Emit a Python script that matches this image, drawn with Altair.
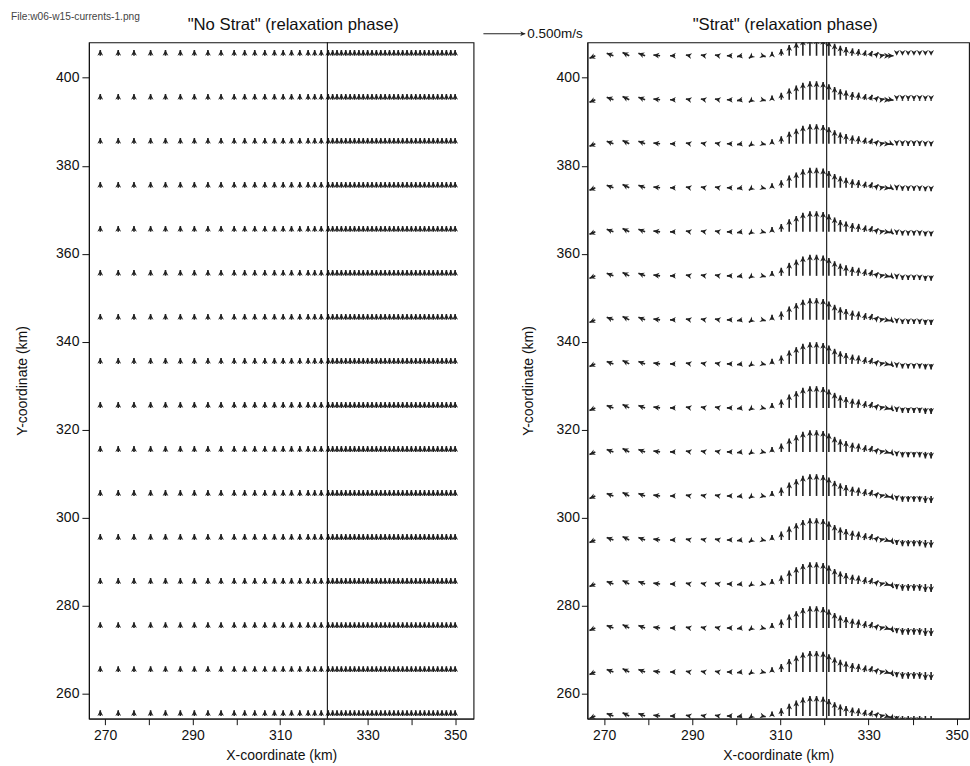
import math
import altair as alt
import pandas as pd

FONT = "Liberation Sans"
INK = "#222222"
LINE = "#111111"

# ---------------- data (km grid, velocities in m/s) ----------------
ROW_Y = [405, 395, 385, 375, 365, 355, 345, 335, 325, 315, 305, 295, 285, 275, 265, 255]

# "No Strat" panel: grid columns (km); velocities are practically zero (weak northward)
LEFT_X = [268.9, 273.0, 276.6, 280.4, 283.8, 287.2, 290.4, 293.5, 296.5, 299.5,
          301.9, 304.2, 306.5, 308.7, 310.7, 312.6, 314.5, 316.4, 317.9, 319.4,
          321.0, 322.0, 323.0, 324.0, 325.0, 326.0, 327.0, 328.0, 329.0, 330.0,
          331.0, 332.0, 333.0, 334.0, 335.0, 336.0, 337.0, 338.0, 339.0, 340.0,
          341.0, 342.0, 343.0, 344.0, 345.0, 346.0, 347.0, 348.0, 349.0, 350.0]
LEFT_U = 0.0
LEFT_V = 0.07

# "Strat" panel: grid columns (km) and the cross-shore profile of u, v (m/s)
R_X = [268.0, 272.1, 275.7, 279.3, 282.7, 286.1, 289.5, 292.9, 296.1, 299.0,
       301.3, 303.6, 305.9, 308.1, 310.2, 312.0, 313.6, 315.1, 316.7, 318.2,
       319.7, 321.0, 322.3, 323.6, 324.9, 326.2, 327.6, 329.0, 330.3, 331.5,
       332.7, 333.9, 335.1, 336.4, 337.7, 339.0, 340.3, 341.6, 342.9, 344.2]
R_U = [-0.07, -0.08, -0.08, -0.08, -0.08, -0.06, -0.05, -0.05, -0.05, -0.06,
       -0.06, -0.04, 0.04, 0.00, 0.00, 0.00, 0.00, 0.00, 0.00, 0.00,
       0.00, 0.00, 0.00, 0.00, 0.00, 0.01, 0.01, 0.02, 0.03, 0.04,
       0.05, 0.05, 0.03, 0.00, 0.00, 0.00, 0.00, 0.00, 0.00, 0.00]
R_V = [-0.03, 0.03, 0.04, 0.03, 0.01, 0.00, 0.01, 0.01, 0.01, 0.00,
       -0.01, -0.03, -0.01, 0.06, 0.10, 0.16, 0.20, 0.24, 0.26, 0.26,
       0.25, 0.22, 0.18, 0.15, 0.13, 0.11, 0.10, 0.08, 0.07, 0.04,
       0.01, -0.01, -0.03, -0.04, -0.05, -0.05, -0.05, -0.05, -0.06, -0.06]
# row-wise strength of the jet and of the offshore (tail) southward flow
ROW_PEAK = [0.80, 0.85, 0.90, 0.92, 0.95, 0.97, 1.0, 1.0, 1.0, 1.0, 1.0, 1.0, 1.0, 1.0, 0.97, 0.92]
ROW_TAIL = [0.0, 0.2, 0.5, 0.7, 0.9, 1.0, 1.0, 1.1, 1.2, 1.3, 1.4, 1.5, 1.6, 1.6, 1.6, 1.6]
TAIL_START = 333.5

DIVIDE_X = [320.8, 320.5]
KM_PER_MS = 19.0          # arrow length: 1 m/s drawn as 19 km
REF_X, REF_Y, REF_U, REF_LABEL = 242.6, 410.0, 0.5, "0.500m/s"

TITLES = ['"No Strat" (relaxation phase)', '"Strat" (relaxation phase)']
FILE_LABEL = "File:w06-w15-currents-1.png"

LEFT_XDOM = [266.3, 354.2]
RIGHT_XDOM = [266.2, 352.8]
YDOM = [254.4, 408.05]
LEFT_W, RIGHT_W, PANEL_H = 385, 382, 677

# arrow head: tip at origin, body trailing behind (pointing "up")
HEAD = "M0,0 L1.0,2 L0,1.4 L-1.0,2 Z"
HEAD_SIZE = 34


def vec_row(x, y, u, v):
    ang = (math.degrees(math.atan2(u, v)) + 360.0) % 360.0
    return {"x": x, "y": y, "xt": x + u * KM_PER_MS, "yt": y + v * KM_PER_MS, "ang": ang}


left_df = pd.DataFrame([vec_row(x, y, LEFT_U, LEFT_V) for y in ROW_Y for x in LEFT_X])

recs = []
for i, y in enumerate(ROW_Y):
    for j, x in enumerate(R_X):
        u, v = R_U[j], R_V[j]
        if v > 0.05:
            v *= ROW_PEAK[i]
        if x >= TAIL_START:
            v *= ROW_TAIL[i]
        recs.append(vec_row(x, y, u, v))
right_df = pd.DataFrame(recs)
ref_df = pd.DataFrame([dict(vec_row(REF_X, REF_Y, REF_U, 0.0), label=REF_LABEL)])


def make_x(field, xdom):
    return alt.X(field, scale=alt.Scale(domain=xdom, nice=False, zero=False),
                 title="X-coordinate (km)",
                 axis=alt.Axis(values=[270, 280, 290, 300, 310, 320, 330, 340, 350],
                               labelExpr="datum.value % 20 == 10 ? datum.label : ''",
                               grid=False, tickSize=6, labelPadding=4, titlePadding=6,
                               labelFontSize=14, titleFontSize=14, titleFontWeight="normal",
                               labelFont=FONT, titleFont=FONT, labelColor=LINE, titleColor=LINE,
                               domainColor=LINE, tickColor=LINE, labelFlush=False))


def make_y(field, tick, lpad, tpad):
    return alt.Y(field, scale=alt.Scale(domain=YDOM, nice=False, zero=False),
                 title="Y-coordinate (km)",
                 axis=alt.Axis(values=[260, 280, 300, 320, 340, 360, 380, 400],
                               grid=False, tickSize=tick, labelPadding=lpad, titlePadding=tpad,
                               labelFontSize=14, titleFontSize=14, titleFontWeight="normal",
                               labelFont=FONT, titleFont=FONT, labelColor=LINE, titleColor=LINE,
                               domainColor=LINE, tickColor=LINE, labelFlush=False))


def title_mark(text, xpix):
    return alt.Chart(pd.DataFrame({"t": [text]})).mark_text(
        align="center", baseline="middle", fontSize=16.7, font=FONT, color=LINE).encode(
        x=alt.value(xpix), y=alt.value(-17), text="t:N")


def panel(df, xdom, width, divide, title, title_x, tick, lpad, tpad, extra=None):
    X = lambda f: make_x(f, xdom)
    Y = lambda f: make_y(f, tick, lpad, tpad)
    base = alt.Chart(df)
    shafts = base.mark_rule(color=INK, strokeWidth=1.6, clip=True).encode(
        x=X("x:Q"), y=Y("y:Q"), x2="xt:Q", y2="yt:Q")
    heads = base.mark_point(shape=HEAD, filled=True, size=HEAD_SIZE, color=INK, opacity=1,
                            strokeWidth=0, clip=True).encode(
        x=X("xt:Q"), y=Y("yt:Q"), angle=alt.Angle("ang:Q", scale=None))
    vline = alt.Chart(pd.DataFrame({"x": [divide]})).mark_rule(
        color=LINE, strokeWidth=1.1).encode(x=X("x:Q"))
    layers = [shafts, heads, vline, title_mark(title, title_x)] + (extra or [])
    return alt.layer(*layers).properties(width=width, height=PANEL_H)


# reference arrow + label (right panel), and file label (left panel)
ref_base = alt.Chart(ref_df)
RX = lambda f: make_x(f, RIGHT_XDOM)
RY = lambda f: make_y(f, 6, 2, 21)
ref_layers = [
    ref_base.mark_rule(color=INK, strokeWidth=1.2).encode(
        x=RX("x:Q"), y=RY("y:Q"), x2="xt:Q", y2="yt:Q"),
    ref_base.mark_point(shape=HEAD, filled=True, size=26, color=INK, opacity=1,
                        strokeWidth=0).encode(
        x=RX("xt:Q"), y=RY("yt:Q"), angle=alt.Angle("ang:Q", scale=None)),
    ref_base.mark_text(align="left", baseline="middle", dx=2, fontSize=13.5, font=FONT,
                       color=LINE).encode(
        x=RX("xt:Q"), y=RY("yt:Q"), text="label:N"),
]
file_label = alt.Chart(pd.DataFrame({"t": [FILE_LABEL]})).mark_text(
    align="left", baseline="top", fontSize=10.2, font=FONT, color="#444").encode(
    x=alt.value(-78), y=alt.value(-30), text="t:N")

left = panel(left_df, LEFT_XDOM, LEFT_W, DIVIDE_X[0], TITLES[0], LEFT_W / 2 + 12,
             7, 3, 26, extra=[file_label])
right = panel(right_df, RIGHT_XDOM, RIGHT_W, DIVIDE_X[1], TITLES[1], RIGHT_W / 2 + 7,
              6, 2, 21, extra=ref_layers)

chart = alt.hconcat(left, right, spacing=114, bounds="flush").properties(
    padding={"left": 10, "top": 11, "right": 0, "bottom": 0},
    background="white",
).configure_view(stroke=LINE, strokeWidth=1.1)

chart.save("out.html", embed_options={"renderer": "svg", "actions": False})
